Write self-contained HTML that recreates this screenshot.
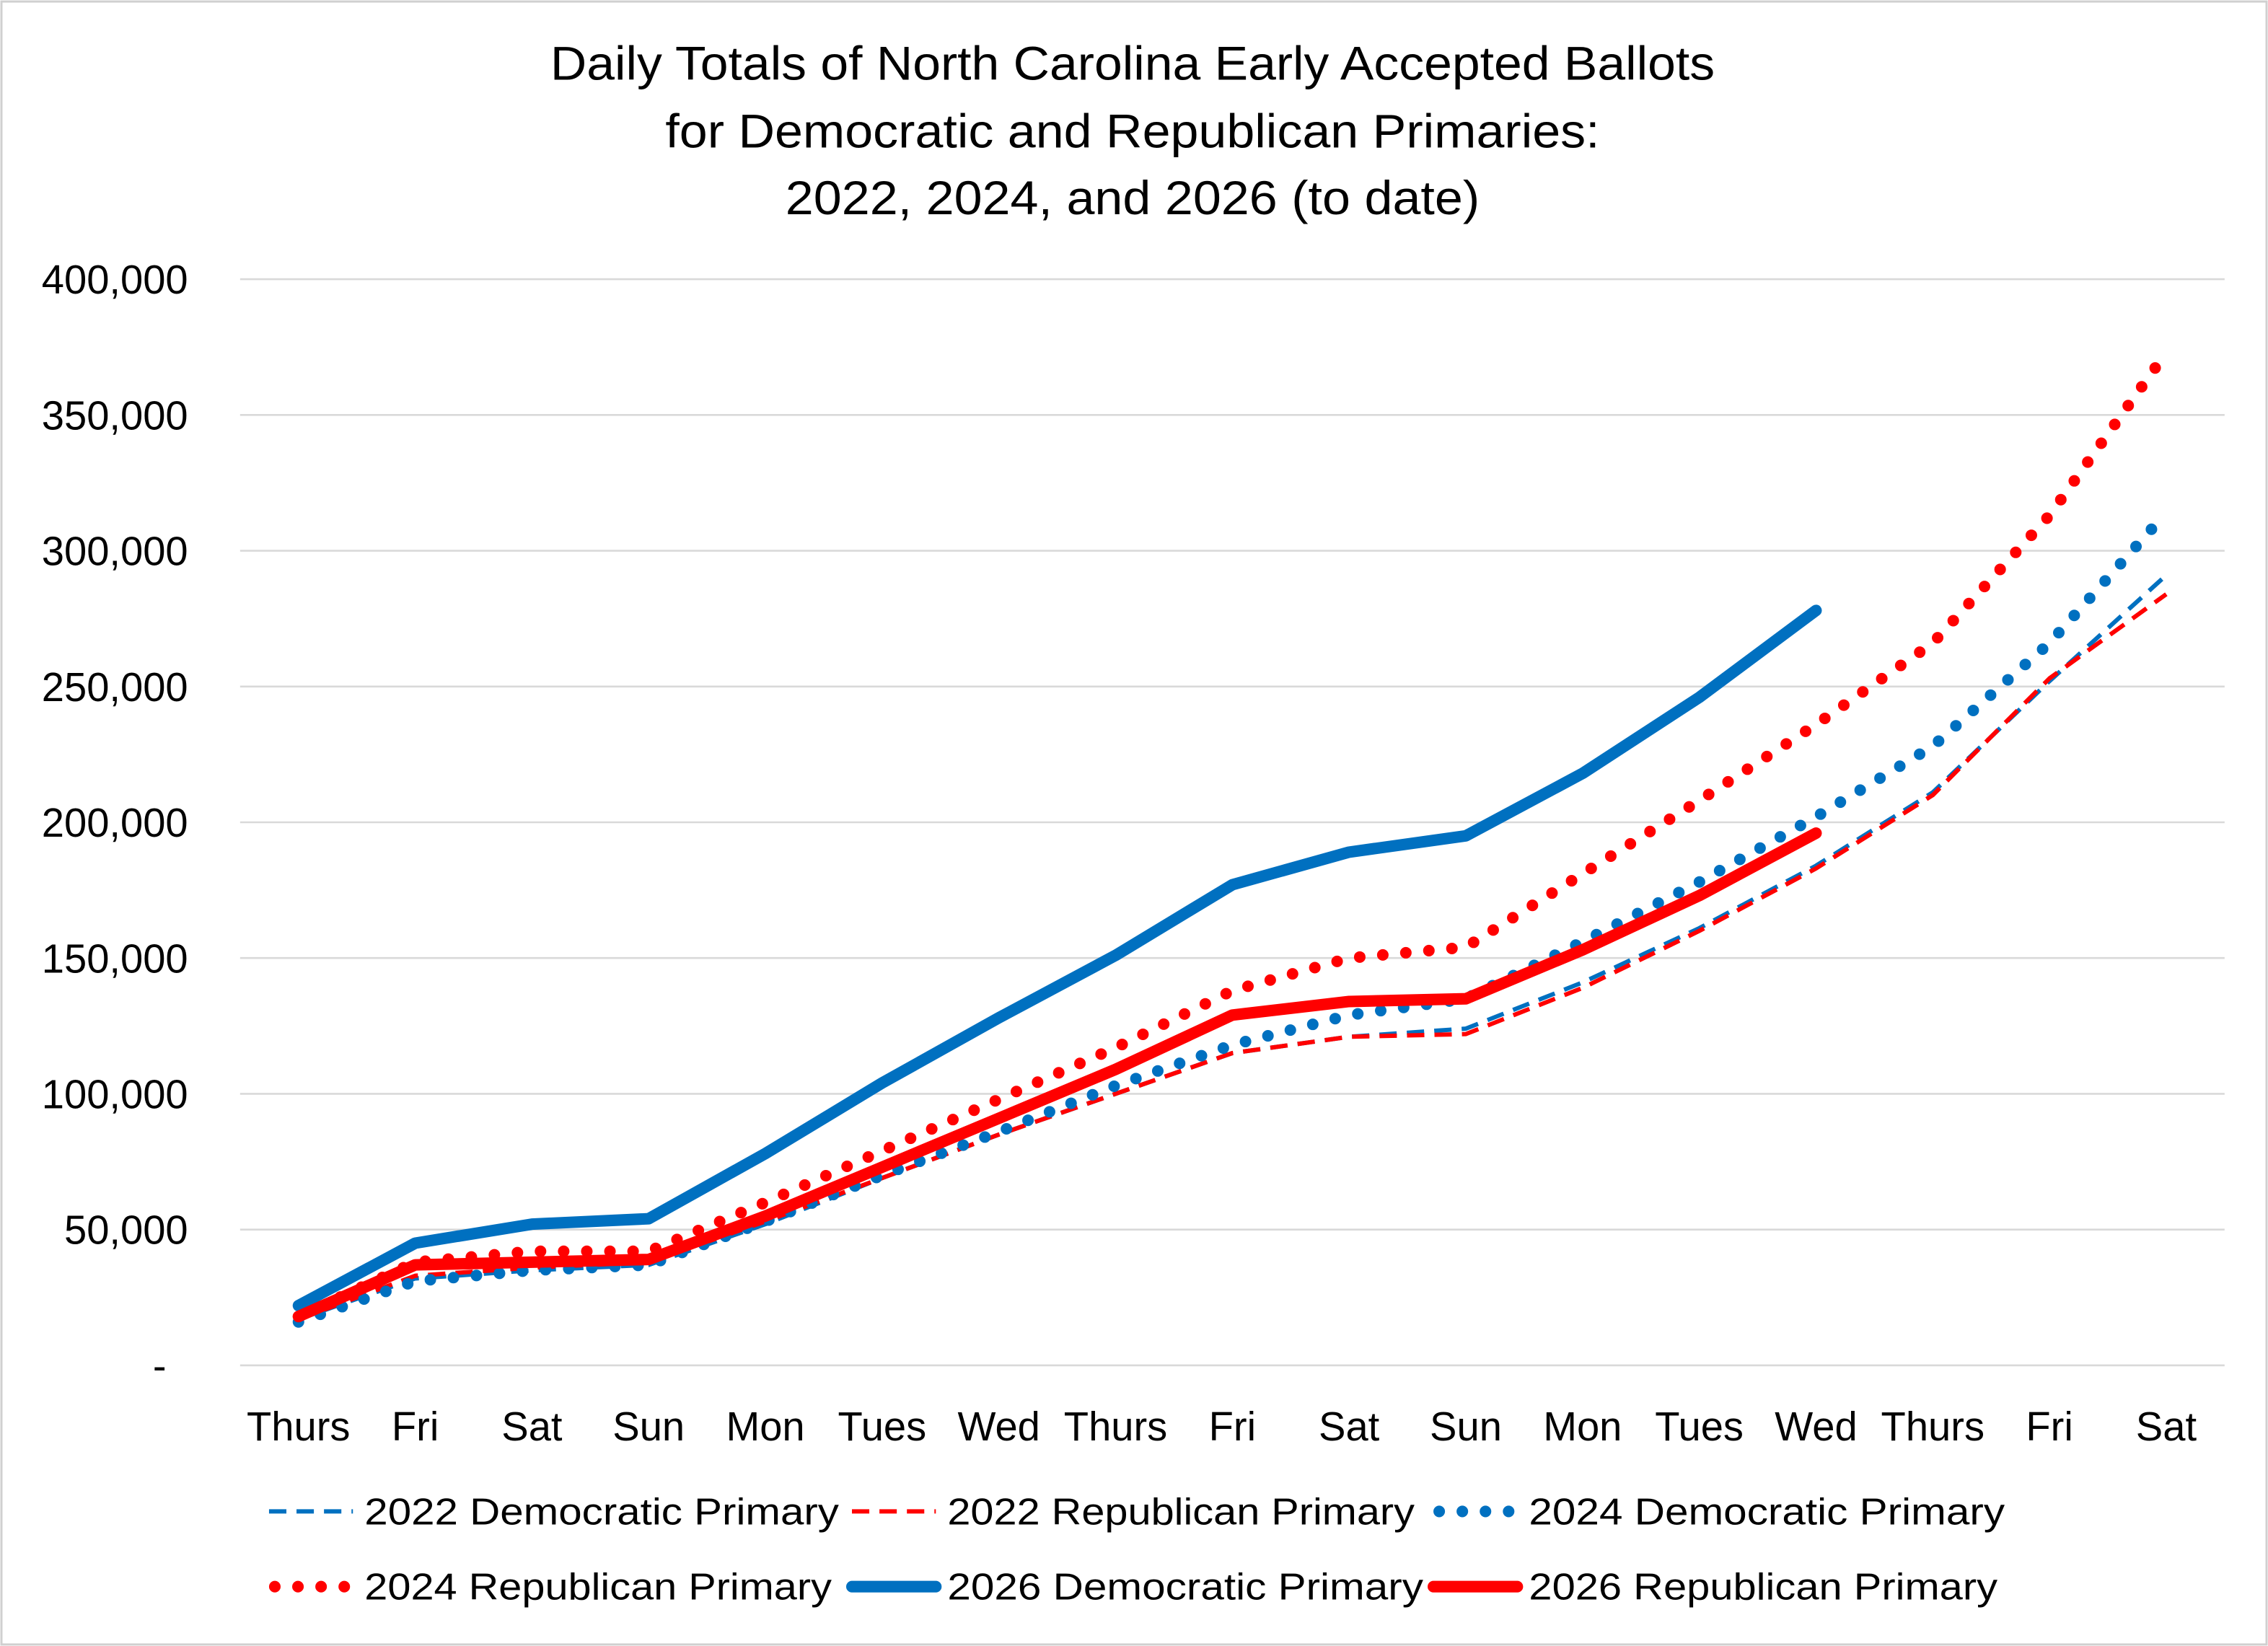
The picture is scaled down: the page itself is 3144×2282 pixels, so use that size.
<!DOCTYPE html>
<html><head><meta charset="utf-8"><style>html,body{margin:0;padding:0;background:#fff}svg{display:block}text{font-family:"Liberation Sans",sans-serif;fill:#000}</style></head>
<body>
<svg id="chart" width="3144" height="2282" viewBox="0 0 1568 1138" xmlns="http://www.w3.org/2000/svg">
<rect x="1" y="1" width="1566" height="1136" fill="#fff" stroke="#d0d0d0" stroke-width="1.5"/>
<g font-size="33" text-anchor="middle">
<text x="783" y="55" textLength="805" lengthAdjust="spacingAndGlyphs">Daily Totals of North Carolina Early Accepted Ballots</text>
<text x="783" y="102" textLength="646" lengthAdjust="spacingAndGlyphs">for Democratic and Republican Primaries:</text>
<text x="783" y="148" textLength="480" lengthAdjust="spacingAndGlyphs">2022, 2024, and 2026 (to date)</text>
</g>
<g id="grid"></g><g id="yticks"></g><g id="xticks"></g><g id="series"></g><g id="legend"></g>
</svg>
<script>
const categories=["Thurs","Fri","Sat","Sun","Mon","Tues","Wed","Thurs","Fri","Sat","Sun","Mon","Tues","Wed","Thurs","Fri","Sat"];
const yTicks=[0,50000,100000,150000,200000,250000,300000,350000,400000];
const yTickLabels=["-","50,000","100,000","150,000","200,000","250,000","300,000","350,000","400,000"];
const dem2022=[17000,32000,35000,37000,52000,69000,85000,100000,115000,121000,124000,141000,161000,184000,211000,252000,291000];
const rep2022=[17000,33000,36000,38000,53000,69000,85000,100000,115000,121000,122000,139000,160000,183000,210000,253000,284000];
const dem2024=[16000,31000,35000,37000,53000,70000,86000,103000,118000,129000,135000,156000,178000,202000,228000,266000,314000];
const rep2024=[18000,38000,42000,42000,60000,79000,98000,117000,138000,150000,154000,181000,208000,236000,266000,313000,373000];
const dem2026=[22000,45000,52000,54000,78000,104000,128000,151000,177000,189000,195000,218000,246000,278000];
const rep2026=[18000,37000,38000,39000,55000,73000,91000,109000,129000,134000,135000,153000,173000,196000];
const NS="http://www.w3.org/2000/svg";
const L=166,R=1538,T=193,B=944;
const step=(R-L)/categories.length;
const x=i=>L+step*(i+0.5);
const y=v=>B-(v/400000)*(B-T);
function mk(tag,parent,attrs){const e=document.createElementNS(NS,tag);for(const k in attrs)e.setAttribute(k,attrs[k]);document.getElementById(parent).appendChild(e);return e;}
yTicks.forEach((v,i)=>{
 const g=mk("line","grid",{x1:L,x2:R,y1:y(v),y2:y(v),stroke:"#d9d9d9","stroke-width":1.3});
 
 
 const t=mk("text","yticks",{x:i===0?115:130,y:y(v)+10,"text-anchor":"end","font-size":28});
 t.textContent=yTickLabels[i];
 
 
});
categories.forEach((c,i)=>{
 const t=mk("text","xticks",{x:x(i),y:996,"text-anchor":"middle","font-size":28});
 t.textContent=c;
 
 
});
const BLUE="#0070C0",RED="#FF0000";
const styles={
 d22:{stroke:BLUE,w:3,dash:"12 7",cap:"butt"},
 r22:{stroke:RED,w:3,dash:"12 7",cap:"butt"},
 d24:{stroke:BLUE,w:8,dash:"0 16",cap:"round"},
 r24:{stroke:RED,w:8,dash:"0 16",cap:"round"},
 d26:{stroke:BLUE,w:8,dash:"",cap:"round"},
 r26:{stroke:RED,w:8,dash:"",cap:"round"}};
function line(vals,s,name){
 const p=mk("polyline","series",{points:vals.map((v,i)=>x(i)+","+y(v)).join(" "),fill:"none",stroke:s.stroke,"stroke-width":s.w,"stroke-dasharray":s.dash,"stroke-linecap":s.cap,"stroke-linejoin":"round"});
 
 
}
line(dem2022,styles.d22,'series-2022-democratic');
line(rep2022,styles.r22,'series-2022-republican');
line(dem2024,styles.d24,'series-2024-democratic');
line(rep2024,styles.r24,'series-2024-republican');
line(dem2026,styles.d26,'series-2026-democratic');
line(rep2026,styles.r26,'series-2026-republican');
const legendItems=[["2022 Democratic Primary",styles.d22,186,1045,328],["2022 Republican Primary",styles.r22,589,1045,323],["2024 Democratic Primary",styles.d24,991,1045,329],["2024 Republican Primary",styles.r24,186,1097,323],["2026 Democratic Primary",styles.d26,589,1097,329],["2026 Republican Primary",styles.r26,991,1097,324]];
legendItems.forEach(([lab,s,lx,ly,tw])=>{
 const g=mk("g","legend",{});
 
 
 const l=document.createElementNS(NS,"line");
 const sx=s.cap==="round"&&s.dash?lx+4:lx;
 [["x1",sx],["x2",lx+58],["y1",ly],["y2",ly],["stroke",s.stroke],["stroke-width",s.w],["stroke-dasharray",s.dash],["stroke-linecap",s.cap]].forEach(([k,v])=>l.setAttribute(k,v));
 g.appendChild(l);
 const t=document.createElementNS(NS,"text");
 t.setAttribute("x",lx+66);t.setAttribute("y",ly+9);t.setAttribute("font-size",26);
 t.setAttribute("textLength",tw);t.setAttribute("lengthAdjust","spacingAndGlyphs");
 t.textContent=lab;g.appendChild(t);
});
</script>
</body></html>
